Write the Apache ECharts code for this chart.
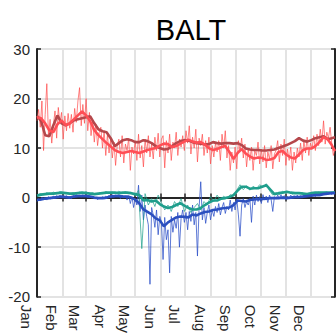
<!DOCTYPE html>
<html><head><meta charset="utf-8">
<script src="https://cdn.jsdelivr.net/npm/echarts@6/dist/echarts.min.js"></script>
<style>html,body{margin:0;padding:0;background:#fff}#c{width:336px;height:336px}</style>
</head><body><div id="c"></div>
<script>
const monthNames = ['Jan','Feb','Mar','Apr','May','Jun','Jul','Aug','Sep','Oct','Nov','Dec'];
const monthDays = [31,28,31,30,31,30,31,31,30,31,30,31];
const yTicks = [-20,-10,0,10,20,30];
const titleText = 'BALT';

// smoothed series sampled every 5 days (day index of year)
const smoothDays = [0,5,10,15,20,25,30,35,40,45,50,55,60,65,70,75,80,85,90,95,100,105,110,115,120,125,130,135,140,145,150,155,160,165,170,175,180,185,190,195,200,205,210,215,220,225,230,235,240,245,250,255,260,265,270,275,280,285,290,295,300,305,310,315,320,325,330,335,340,345,350,355,360,364];
const redSmooth = [16.2,16.0,15.0,13.6,13.2,14.8,15.6,14.6,15.0,15.8,16.6,17.4,16.6,15.4,13.6,12.6,11.8,11.0,10.3,9.6,9.2,9.0,9.2,9.4,9.2,9.0,9.3,9.6,9.8,10.0,10.5,10.9,10.8,10.2,10.4,10.9,11.3,11.7,11.3,11.1,11.2,10.7,10.0,9.6,9.8,10.2,10.4,9.2,7.8,9.0,9.8,8.9,8.3,7.9,8.1,8.0,7.6,7.7,8.0,9.2,9.4,8.6,8.1,7.9,8.7,9.6,9.9,9.9,10.4,11.2,12.2,11.8,10.6,9.4];
const brownSmooth = [16.5,15.5,12.6,12.4,14.6,16.6,15.0,14.6,15.0,15.6,15.8,16.0,16.2,16.4,15.0,13.8,13.4,13.2,12.0,10.4,11.0,11.6,11.8,11.6,11.2,11.2,11.6,11.4,11.0,10.4,10.0,9.7,9.8,10.4,11.0,11.4,11.6,11.5,11.2,11.0,10.9,10.7,10.8,11.2,11.0,10.9,11.0,11.0,10.9,11.0,10.6,9.9,9.7,9.6,9.6,9.5,9.5,9.6,9.7,10.0,10.3,10.6,11.0,11.4,12.0,11.5,11.3,11.6,12.0,12.2,12.4,11.8,12.0,12.2];
const blueSmooth = [-0.5,-0.4,-0.2,-0.1,0.0,0.1,0.2,0.1,0.0,0.2,0.3,0.3,0.3,0.2,0.0,-0.1,-0.1,0.0,0.2,0.3,0.3,0.2,0.2,0.0,-0.4,-1.2,-2.4,-2.9,-3.4,-4.2,-4.6,-5.8,-5.0,-4.5,-4.0,-3.8,-3.9,-4.0,-3.4,-3.6,-3.2,-2.9,-2.8,-2.5,-2.4,-2.2,-2.1,-2.0,-1.5,-0.6,-0.7,-0.8,-0.5,-0.4,-0.3,-0.3,-0.2,-0.1,-0.1,-0.1,0.0,-0.1,0.0,0.1,0.1,0.2,0.3,0.4,0.5,0.5,0.7,0.8,0.9,0.9];
const tealSmooth = [0.4,0.6,0.7,0.8,0.8,0.9,1.0,0.9,0.8,0.8,0.9,1.0,0.9,0.8,0.7,0.8,0.9,1.0,1.0,1.0,0.9,1.0,1.0,0.9,0.7,0.5,-0.6,-0.5,-0.8,-0.6,-1.3,-1.8,-2.1,-1.9,-1.5,-1.1,-1.6,-2.1,-2.4,-2.4,-2.1,-1.5,-1.0,-0.6,-0.6,-0.2,-0.1,0.1,0.5,1.4,2.2,2.2,1.8,1.9,1.9,2.2,2.5,1.6,0.7,0.9,1.0,1.2,1.0,0.9,0.9,0.8,0.7,0.9,1.0,1.0,1.0,1.0,1.0,1.0];

// daily-ish raw series sampled every 2 days (red, blue) and 4 days (teal)
const rawStepRB = 2;
const redRaw = [15.5,17.8,14.2,19.5,9.5,16.8,23.0,12.5,15.8,11.0,
14.6,17.5,12.0,18.2,15.0,17.2,11.8,16.5,13.5,17.0,
14.0,16.8,13.2,18.0,15.2,19.5,22.2,14.5,18.8,15.0,
20.0,13.5,17.2,12.5,15.5,11.2,14.8,10.5,13.2,14.2,
10.0,13.5,8.5,12.8,9.0,11.8,8.0,11.2,6.5,10.5,
11.8,8.2,12.5,7.0,10.8,9.5,12.0,5.5,10.2,8.8,
11.5,7.5,12.8,8.0,10.5,6.2,11.8,9.0,12.5,8.2,
10.8,7.8,12.2,9.5,13.0,8.2,11.8,12.5,6.0,11.5,
9.0,12.8,7.5,11.2,10.0,13.2,8.5,11.8,10.2,12.5,
9.5,13.5,11.0,14.5,8.8,12.2,10.0,13.8,7.2,12.0,
10.5,12.8,8.5,11.5,9.0,12.2,6.8,10.5,8.2,11.0,
9.2,11.5,7.5,12.8,10.0,13.5,8.0,10.5,5.5,9.2,
7.0,10.2,5.8,11.5,9.5,12.0,8.0,10.8,6.2,9.8,
7.5,10.2,5.5,9.5,8.5,11.2,6.8,9.8,7.2,10.5,
6.0,9.2,7.8,10.5,5.8,8.8,9.5,11.5,7.2,10.8,
8.5,11.8,6.5,9.8,7.5,10.2,5.5,9.2,7.0,10.0,
8.2,11.0,7.5,11.5,9.0,12.2,8.5,11.0,9.8,12.5,
9.5,12.8,10.5,13.8,11.2,15.5,10.8,13.2,12.0,14.2,
11.0,8.5,9.8];
const blueRaw = [-0.8,-0.2,-0.6,0.1,-0.4,-0.1,-0.5,0.2,-0.3,0.0,
0.3,-0.2,0.4,0.0,0.5,0.1,0.3,-0.1,0.4,0.0,
0.2,-0.2,0.4,0.1,0.6,0.2,0.5,0.1,0.6,0.2,
0.5,0.0,0.4,-0.1,0.2,-0.3,0.1,-0.4,0.0,-0.2,
0.2,-0.3,0.3,0.0,0.5,0.1,0.6,0.0,0.5,0.2,
0.6,-0.2,0.5,0.0,0.3,-0.5,0.4,-1.2,0.2,-2.0,
-0.3,-1.5,2.5,-2.8,0.5,-4.5,-1.5,-3.8,-5.5,-17.5,
-2.0,-3.5,-6.0,-2.5,-7.5,-3.8,-5.0,-12.5,-4.0,-8.5,
-6.5,-15.2,-3.8,-7.0,-4.5,-6.2,-3.0,-10.0,-4.2,-2.5,
-5.0,-3.0,-6.5,-2.8,-4.8,-1.5,-5.5,-3.0,-11.8,-2.0,
3.2,-4.5,-2.0,-5.2,-3.0,-1.5,-4.5,-2.5,-3.8,-1.8,
-3.0,-1.2,-3.5,-2.0,-1.0,-3.2,-1.8,-2.5,-0.5,-2.8,
-1.0,-2.5,-0.3,-3.5,-7.8,-1.5,-0.2,-2.0,-0.8,-1.5,
-0.2,-5.0,0.3,-1.5,0.5,-0.8,0.2,-1.2,0.6,-0.5,
0.3,-1.0,0.5,-0.4,-2.8,0.2,-0.3,0.5,-0.2,0.6,
-0.1,0.4,-0.4,0.3,-0.2,0.5,-0.1,0.4,0.0,0.5,
0.0,0.4,-0.1,0.5,0.1,0.6,0.2,0.7,0.3,0.8,
0.2,0.9,0.4,1.0,0.5,1.1,0.6,1.2,0.7,1.1,
0.6,1.2,0.8];
const rawStepT = 4;
const tealRaw = [0.5,0.8,0.6,1.0,0.7,1.1,0.8,1.2,0.9,1.0,
0.7,1.0,0.8,1.1,0.9,1.2,0.8,1.0,0.6,0.9,
0.8,1.2,0.9,1.1,0.8,1.3,0.9,1.2,0.8,1.0,
0.4,1.5,-10.3,0.8,-1.5,-0.2,-1.8,0.5,-1.0,-2.5,
-1.5,-2.8,-0.8,-1.8,-0.2,-2.8,-1.5,-3.0,-2.0,-1.2,
-2.5,-0.8,-1.5,0.2,-0.8,0.5,-0.5,0.3,-0.2,0.6,
0.3,1.5,2.6,1.6,2.4,1.5,2.3,1.8,2.6,2.1,
2.8,1.4,0.5,1.0,0.6,1.3,0.9,1.1,0.7,1.0,
0.8,1.0,0.6,0.9,1.0,0.8,1.1,0.9,1.1,1.0,
0.9,1.1];

// ---- build library structures ----
const categories = [];
const monthStarts = [];
monthNames.forEach((m, i) => {
  monthStarts.push(categories.length);
  for (let d = 1; d <= monthDays[i]; d++) categories.push(m + ' ' + d);
});
const lastIdx = categories.length - 1;
const pairsStep = (arr, step) => arr.map((v, i) => [Math.min(i * step, lastIdx), v]);
const pairsDays = (days, arr) => arr.map((v, i) => [days[i], v]);
const isMonthStart = (i) => monthStarts.indexOf(i) >= 0;

const FONT = '"Liberation Sans", Arial, Helvetica, sans-serif';
const AX = '#262626';
const GRID = '#e3e3e3';

function lineSeries(name, data, color, width, z) {
  return {name, type: 'line', data, xAxisIndex: 0, yAxisIndex: 0, showSymbol: false, symbol: 'none',
    lineStyle: {color, width}, z, silent: true, animation: false};
}

const chart = echarts.init(document.getElementById('c'), null, {renderer: 'svg'});
chart.setOption({
  animation: false,
  title: {text: titleText, left: 186, top: 10, textAlign: 'center',
    textStyle: {fontFamily: FONT, fontSize: 29, fontWeight: 'normal', color: '#000'}},
  grid: {left: 37, right: 1, top: 49, bottom: 39, containLabel: false},
  xAxis: [
    {type: 'category', data: categories, boundaryGap: false, position: 'bottom',
      axisLine: {show: true, lineStyle: {color: AX, width: 2}},
      axisTick: {show: true, inside: true, length: 4, interval: isMonthStart, lineStyle: {color: AX, width: 1.5}},
      axisLabel: {show: true, interval: isMonthStart, rotate: -90, margin: 8, verticalAlign: 'top',
        padding: [3, 0, 0, 0],
        formatter: v => v.split(' ')[0], fontFamily: FONT, fontSize: 15, color: '#262626'},
      splitLine: {show: true, interval: isMonthStart, lineStyle: {color: GRID, width: 2}}},
    {type: 'category', data: categories, boundaryGap: false, position: 'top',
      axisLine: {show: true, lineStyle: {color: AX, width: 2}},
      axisTick: {show: true, inside: true, length: 4, interval: isMonthStart, lineStyle: {color: AX, width: 1.5}},
      axisLabel: {show: false}, splitLine: {show: false}}
  ],
  yAxis: [
    {type: 'value', min: yTicks[0], max: yTicks[yTicks.length - 1], interval: 10, position: 'left',
      axisLine: {show: true, lineStyle: {color: AX, width: 2}},
      axisTick: {show: true, inside: true, length: 4, lineStyle: {color: AX, width: 1.5}},
      axisLabel: {show: true, margin: 7, fontFamily: FONT, fontSize: 15, color: '#262626'},
      splitLine: {show: true, lineStyle: {color: GRID, width: 2}}},
    {type: 'value', min: yTicks[0], max: yTicks[yTicks.length - 1], interval: 10, position: 'right',
      axisLine: {show: true, lineStyle: {color: AX, width: 2}},
      axisTick: {show: true, inside: true, length: 4, lineStyle: {color: AX, width: 1.5}},
      axisLabel: {show: false}, splitLine: {show: false}}
  ],
  series: [
    lineSeries('red raw', pairsStep(redRaw, rawStepRB), 'rgba(255,70,70,0.75)', 0.9, 2),
    lineSeries('red alt', pairsDays(smoothDays, brownSmooth), '#b5474b', 2.6, 3),
    lineSeries('red smooth', pairsDays(smoothDays, redSmooth), '#ff4e55', 2.6, 4),
    lineSeries('blue raw', pairsStep(blueRaw, rawStepRB), 'rgba(45,80,200,0.85)', 0.9, 2),
    lineSeries('teal raw', pairsStep(tealRaw, rawStepT), 'rgba(30,160,140,0.8)', 0.9, 3),
    lineSeries('teal smooth', pairsDays(smoothDays, tealSmooth), '#1f9e8c', 2.6, 4),
    lineSeries('blue smooth', pairsDays(smoothDays, blueSmooth), '#2b4fbf', 2.6, 5)
  ]
});
</script></body></html>
